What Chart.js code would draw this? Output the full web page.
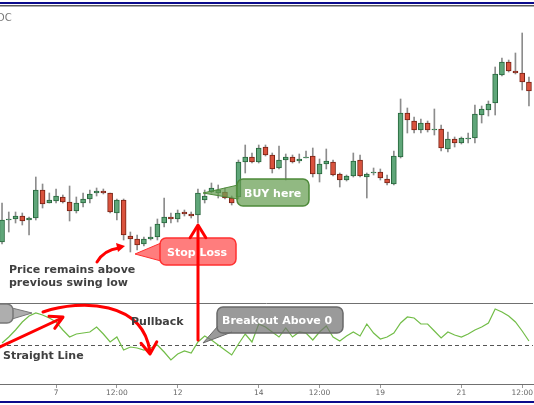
<!DOCTYPE html>
<html>
<head>
<meta charset="utf-8">
<script src="https://cdn.jsdelivr.net/npm/chart.js@4.4.1/dist/chart.umd.min.js"></script>
<style>
  html, body { margin: 0; padding: 0; background: #fff; }
  #wrap { position: relative; width: 534px; height: 405px; }
</style>
</head>
<body>
<div id="wrap"><canvas id="priceChart"></canvas></div>
<script>
// candles (price units are arbitrary)
const opens  = [61, 83, 84, 87, 83, 85, 113, 100, 102, 106,
                101, 92, 100, 104, 110, 112, 110, 90, 103, 67,
                64, 59, 64, 66, 80, 86, 84, 91, 89, 88,
                103, 111, 110, 111, 105, 106, 141, 146, 141, 156,
                148, 135, 143, 146, 142, 145, 147, 129, 139, 141,
                129, 123, 127, 143, 126, 130, 131, 124, 119, 146,
                190, 182, 173, 180, 173, 174, 154, 164, 160, 164,
                165, 188, 193, 200, 228, 241, 232, 230, 221];
const closes = [83, 84, 87, 82, 85, 113, 99, 103, 107, 101,
                92, 100, 104, 109, 112, 110, 91, 103, 68, 64,
                58, 64, 66, 79, 86, 84, 90, 89, 87, 110,
                107, 115, 113, 105, 100, 141, 146, 141, 155, 148,
                134, 143, 146, 141, 144, 146, 129, 139, 142, 128,
                123, 127, 142, 127, 129, 131, 125, 120, 147, 190,
                183, 173, 180, 173, 174, 155, 164, 160, 165, 165,
                189, 194, 199, 229, 241, 232, 230, 221, 212];
const highs  = [100, 91, 91, 90, 86, 126, 119, 110, 114, 108,
                117, 106, 110, 113, 115, 114, 110, 104, 104, 71,
                68, 66, 76, 84, 105, 90, 93, 93, 91, 114,
                113, 120, 118, 115, 107, 143, 158, 150, 158, 158,
                150, 157, 149, 148, 149, 152, 155, 144, 154, 143,
                130, 128, 150, 148, 130, 135, 134, 128, 152, 204,
                195, 186, 184, 182, 194, 178, 171, 166, 166, 170,
                198, 197, 202, 236, 245, 243, 250, 270, 226];
const lows   = [59, 71, 80, 78, 68, 83, 95, 100, 100, 100,
                82, 90, 96, 100, 107, 109, 90, 83, 63, 51,
                53, 57, 63, 63, 76, 80, 81, 87, 85, 80,
                100, 110, 105, 104, 98, 104, 130, 140, 140, 147,
                130, 134, 123, 140, 140, 145, 126, 121, 134, 127,
                116, 122, 126, 126, 105, 128, 123, 118, 118, 145,
                170, 170, 170, 171, 168, 152, 151, 156, 159, 160,
                160, 180, 187, 188, 227, 231, 229, 213, 197];

// oscillator in the lower pane, 0 = dashed line
const oscValues = [2, 8, 15, 23, 29, 32, 30, 27, 23, 15,
                   8, 11, 12, 13, 18, 11, 3, 8, -5, -2,
                   -3, -5, -3, 0, -7, -15, -9, -6, -8, 3,
                   9, 5, 0, -5, -10, 1, 11, 3, 21, 18,
                   13, 8, 17, 8, 13, 12, 5, 13, 19, 8,
                   4, 9, 13, 9, 21, 12, 6, 8, 12, 22,
                   28, 27, 21, 21, 14, 7, 13, 10, 8, 11,
                   15, 18, 22, 36, 33, 29, 23, 14, 4];

// x axis: candle index of each tick and its label
const tickIndex  = [8, 17, 26, 38, 47, 56, 68, 77];
const tickLabels = ["7", "12:00", "12", "14", "12:00", "19", "21", "12:00"];

const UP_FILL = "#5fa679", UP_LINE = "#27663c";
const DN_FILL = "#d9523d", DN_LINE = "#772214";

const isUp = opens.map((o, i) => closes[i] >= o);
const bodyData = opens.map((o, i) => ({ x: i, y: [o, closes[i]] }));
const wickData = highs.map((h, i) => ({ x: i, y: [lows[i], h] }));
const oscData = oscValues.map((v, i) => ({ x: i, y: v }));

Chart.defaults.font.family = '"DejaVu Sans", Verdana, sans-serif';

// ---- drawing helpers for the annotations ----
function callout(ctx, box, tri, fill, line) {
  const [x, y, w, h] = box;
  // keep the triangle's winding the same as the box so they fill as one shape
  const area = (tri[0] * tri[3] - tri[2] * tri[1]) + (tri[2] * tri[5] - tri[4] * tri[3]) + (tri[4] * tri[1] - tri[0] * tri[5]);
  const pts = area < 0 ? [tri[4], tri[5], tri[2], tri[3], tri[0], tri[1]] : tri;
  ctx.save();
  ctx.beginPath();
  ctx.roundRect(x, y, w, h, 6);
  ctx.moveTo(pts[0], pts[1]);
  ctx.lineTo(pts[2], pts[3]);
  ctx.lineTo(pts[4], pts[5]);
  ctx.closePath();
  ctx.fillStyle = fill;
  ctx.fill();
  ctx.strokeStyle = line;
  ctx.lineWidth = 1.5;
  ctx.beginPath();
  ctx.roundRect(x, y, w, h, 6);
  ctx.stroke();
  ctx.lineWidth = 1;
  ctx.beginPath();
  ctx.moveTo(tri[0], tri[1]);
  ctx.lineTo(tri[2], tri[3]);
  ctx.lineTo(tri[4], tri[5]);
  ctx.stroke();
  ctx.restore();
}

function arrowHead(ctx, tx, ty, ang, len, spread) {
  ctx.beginPath();
  ctx.moveTo(tx - len * Math.cos(ang - spread), ty - len * Math.sin(ang - spread));
  ctx.lineTo(tx, ty);
  ctx.lineTo(tx - len * Math.cos(ang + spread), ty - len * Math.sin(ang + spread));
  ctx.stroke();
}

function label(ctx, text, x, y, color, font) {
  ctx.font = font || 'bold 11px "DejaVu Sans"';
  ctx.fillStyle = color;
  ctx.textAlign = "left";
  ctx.textBaseline = "alphabetic";
  ctx.fillText(text, x, y);
}

// pane frame lines and zero line of the oscillator
const panes = {
  id: "panes",
  beforeDatasetsDraw(chart) {
    const { ctx, chartArea, scales } = chart;
    const osc = scales.yOsc;
    ctx.save();
    ctx.strokeStyle = "#707070";
    ctx.lineWidth = 1;
    ctx.beginPath();
    ctx.moveTo(chartArea.left, Math.round(osc.top) + 0.5);
    ctx.lineTo(chartArea.right, Math.round(osc.top) + 0.5);
    ctx.stroke();
    const y0 = Math.round(osc.getPixelForValue(0)) + 0.5;
    ctx.strokeStyle = "#555";
    ctx.setLineDash([4, 3]);
    ctx.beginPath();
    ctx.moveTo(chartArea.left, y0);
    ctx.lineTo(chartArea.right, y0);
    ctx.stroke();
    ctx.restore();
  }
};

// text, callouts and red arrows on top of the chart
const notes = {
  id: "notes",
  afterDraw(chart) {
    const ctx = chart.ctx;
    ctx.save();

    // window frame
    ctx.fillStyle = "#0b0b8c";
    ctx.fillRect(0, 2, 534, 2);
    ctx.fillStyle = "#5a5a5a";
    ctx.fillRect(0, 5, 534, 1.5);
    ctx.fillStyle = "#0b0b8c";
    ctx.fillRect(0, 401, 534, 2);
    label(ctx, "DC", -3, 21, "#777", '10px "DejaVu Sans"');

    // callouts
    callout(ctx, [237, 179, 72, 27], [238, 185, 203, 193, 238, 199], "rgba(103,158,82,0.72)", "#4e8a3a");
    callout(ctx, [160, 238, 76, 27], [161, 243, 135, 254, 161, 261], "rgba(255,70,70,0.7)", "#ff3030");
    callout(ctx, [217, 307, 126, 26], [218, 326, 203, 343, 232, 332], "rgba(115,115,115,0.72)", "#6a6a6a");
    callout(ctx, [-30, 304, 43, 19], [12, 308, 32, 313, 12, 319], "rgba(140,140,140,0.7)", "#777");

    // red arrows
    ctx.save();
    ctx.strokeStyle = "#ff0000";
    ctx.fillStyle = "#ff0000";
    ctx.lineWidth = 3;
    ctx.lineCap = "round";
    ctx.lineJoin = "round";

    // big vertical arrow up to the stop loss candle
    ctx.beginPath();
    ctx.moveTo(198, 340);
    ctx.lineTo(198, 227);
    ctx.stroke();
    arrowHead(ctx, 198, 225, -Math.PI / 2, 15, 0.55);

    // small curved arrow to the swing low
    ctx.beginPath();
    ctx.moveTo(97, 262);
    ctx.quadraticCurveTo(104, 250, 119, 248);
    ctx.stroke();
    ctx.beginPath();
    ctx.moveTo(125, 246);
    ctx.lineTo(116, 243);
    ctx.lineTo(118, 252);
    ctx.closePath();
    ctx.fill();

    // straight arrow in the oscillator pane
    ctx.beginPath();
    ctx.moveTo(0, 347);
    ctx.lineTo(62, 318);
    ctx.stroke();
    arrowHead(ctx, 63, 317, Math.atan2(-30, 63), 14, 0.5);

    // pullback arc
    ctx.beginPath();
    ctx.moveTo(43, 312);
    ctx.bezierCurveTo(82, 299, 143, 301, 150, 352);
    ctx.stroke();
    arrowHead(ctx, 150, 354, Math.atan2(54, 5), 14, 0.6);
    ctx.restore();

    // texts last so they sit above the arrows
    label(ctx, "BUY here", 244, 197, "#fff");
    label(ctx, "Stop Loss", 167, 256, "#fff");
    label(ctx, "Breakout Above 0", 222, 324, "#fff");
    label(ctx, "Price remains above", 9, 273, "#404040");
    label(ctx, "previous swing low", 9, 286, "#404040");
    label(ctx, "Pullback", 131, 325, "#404040");
    label(ctx, "Straight Line", 3, 359, "#404040");

    ctx.restore();
  }
};

const chart = new Chart(document.getElementById("priceChart"), {
  type: "bar",
  data: {
    datasets: [
      {
        label: "body",
        data: bodyData,
        yAxisID: "y",
        grouped: false,
        barThickness: 5,
        borderWidth: 1,
        borderSkipped: false,
        backgroundColor: isUp.map(u => (u ? UP_FILL : DN_FILL)),
        borderColor: isUp.map(u => (u ? UP_LINE : DN_LINE)),
        order: 1
      },
      {
        label: "wick",
        data: wickData,
        yAxisID: "y",
        grouped: false,
        barThickness: 1,
        borderWidth: 0,
        backgroundColor: "#8c8c8c",
        order: 2
      },
      {
        type: "line",
        label: "oscillator",
        data: oscData,
        yAxisID: "yOsc",
        borderColor: "#72bd48",
        borderWidth: 1.2,
        pointRadius: 0,
        tension: 0,
        order: 0
      }
    ]
  },
  options: {
    responsive: true,
    maintainAspectRatio: false,
    animation: false,
    layout: { padding: { top: 8, left: 0, right: 0, bottom: 0 } },
    plugins: { legend: { display: false }, tooltip: { enabled: false } },
    scales: {
      x: {
        type: "linear",
        min: -0.3,
        max: 78.6,
        offset: false,
        grid: { offset: false, drawOnChartArea: false, drawTicks: true, tickLength: 4, color: "#999" },
        border: { display: true, color: "#707070" },
        ticks: {
          autoSkip: false,
          maxRotation: 0,
          padding: 1,
          color: "#666",
          font: { size: 7.5 },
          callback: v => {
            const k = tickIndex.indexOf(v);
            return k >= 0 ? tickLabels[k] : "";
          }
        },
        afterBuildTicks: s => { s.ticks = tickIndex.map(v => ({ value: v })); },
        afterFit: s => { s.height = 21; }
      },
      yOsc: {
        position: "left",
        stack: "panes",
        stackWeight: 81,
        min: -39,
        max: 42,
        ticks: { display: false },
        grid: { display: false, drawTicks: false },
        border: { display: false }
      },
      y: {
        position: "left",
        stack: "panes",
        stackWeight: 295,
        min: 0,
        max: 295,
        ticks: { display: false },
        grid: { display: false, drawTicks: false },
        border: { display: false }
      }
    }
  },
  plugins: [panes, notes]
});
</script>
</body>
</html>
